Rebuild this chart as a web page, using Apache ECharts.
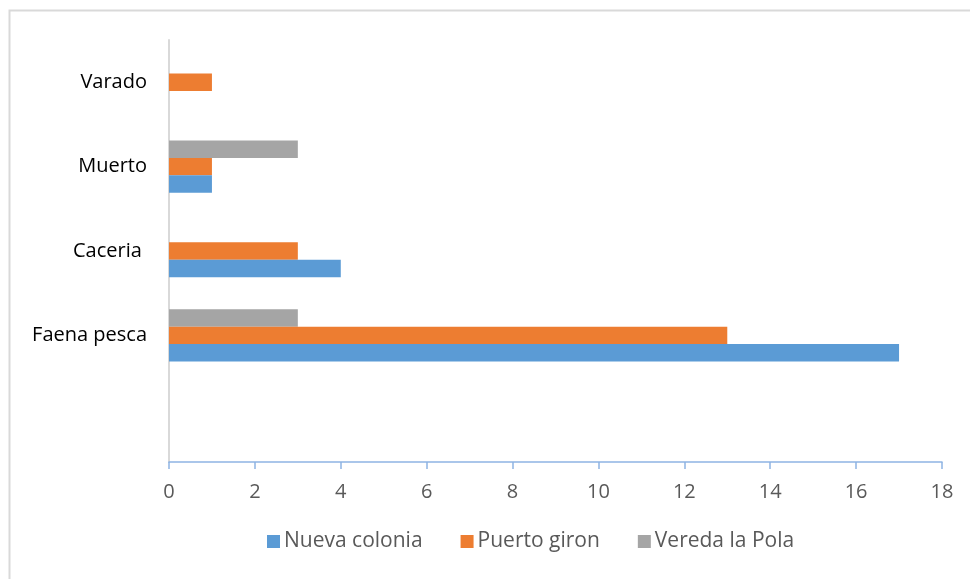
<!DOCTYPE html>
<html>
<head>
<meta charset="utf-8">
<script src="https://cdn.jsdelivr.net/npm/echarts@6/dist/echarts.min.js"></script>
<style>
  html, body { margin: 0; padding: 0; background: #fff; }
  #chart { width: 970px; height: 579px; }
</style>
</head>
<body>
<div id="chart"></div>
<script>
// categories, bottom to top (first one is empty in the original)
var categories = ['', 'Faena pesca', 'Caceria ', 'Muerto', 'Varado'];
var seriesNames = ['Nueva colonia', 'Puerto giron', 'Vereda la Pola'];
var nuevaColonia = [0, 17, 4, 1, 0];
var puertoGiron = [0, 13, 3, 1, 1];
var veredaLaPola = [0, 3, 0, 3, 0];
var colors = ['#5b9bd5', '#ed7d31', '#a5a5a5'];

var chart = echarts.init(document.getElementById('chart'));
var values = [nuevaColonia, puertoGiron, veredaLaPola];

// echarts puts the first series on top, excel puts it at the bottom -> reverse
var series = seriesNames.map(function (name, i) {
  return {
    name: name,
    type: 'bar',
    data: values[i],
    barGap: '0%',
    barCategoryGap: '38%',
    itemStyle: { color: colors[i] },
    silent: true
  };
}).reverse();

chart.setOption({
  animation: false,
  textStyle: { fontFamily: 'Open Sans' },
  graphic: [{
    type: 'rect',
    shape: { x: 9.5, y: 10.5, width: 980, height: 600 },
    style: { fill: 'none', stroke: '#d9d9d9', lineWidth: 2 },
    silent: true
  }],
  grid: { left: 169, right: 28, top: 40, bottom: 117 },
  legend: {
    data: seriesNames,
    left: 262,
    top: 526,
    itemWidth: 13,
    itemHeight: 13,
    itemGap: 38,
    icon: 'rect',
    textStyle: { color: '#595959', fontSize: 21, fontFamily: 'Open Sans', padding: [0, 0, 0, -1] }
  },
  xAxis: {
    type: 'value',
    min: 0,
    max: 18,
    interval: 2,
    splitLine: { show: false },
    axisLine: { show: true, lineStyle: { color: '#8fb4e3', width: 1.5 } },
    axisTick: { show: true, length: 7, lineStyle: { color: '#8fb4e3', width: 1.5 } },
    axisLabel: { color: '#595959', fontSize: 20, margin: 20 }
  },
  yAxis: {
    type: 'category',
    data: categories,
    axisLine: { show: true, lineStyle: { color: '#d9d9d9', width: 2 } },
    axisTick: { show: false },
    axisLabel: { color: '#000', fontSize: 20, margin: 22 }
  },
  series: series
});
</script>
</body>
</html>
